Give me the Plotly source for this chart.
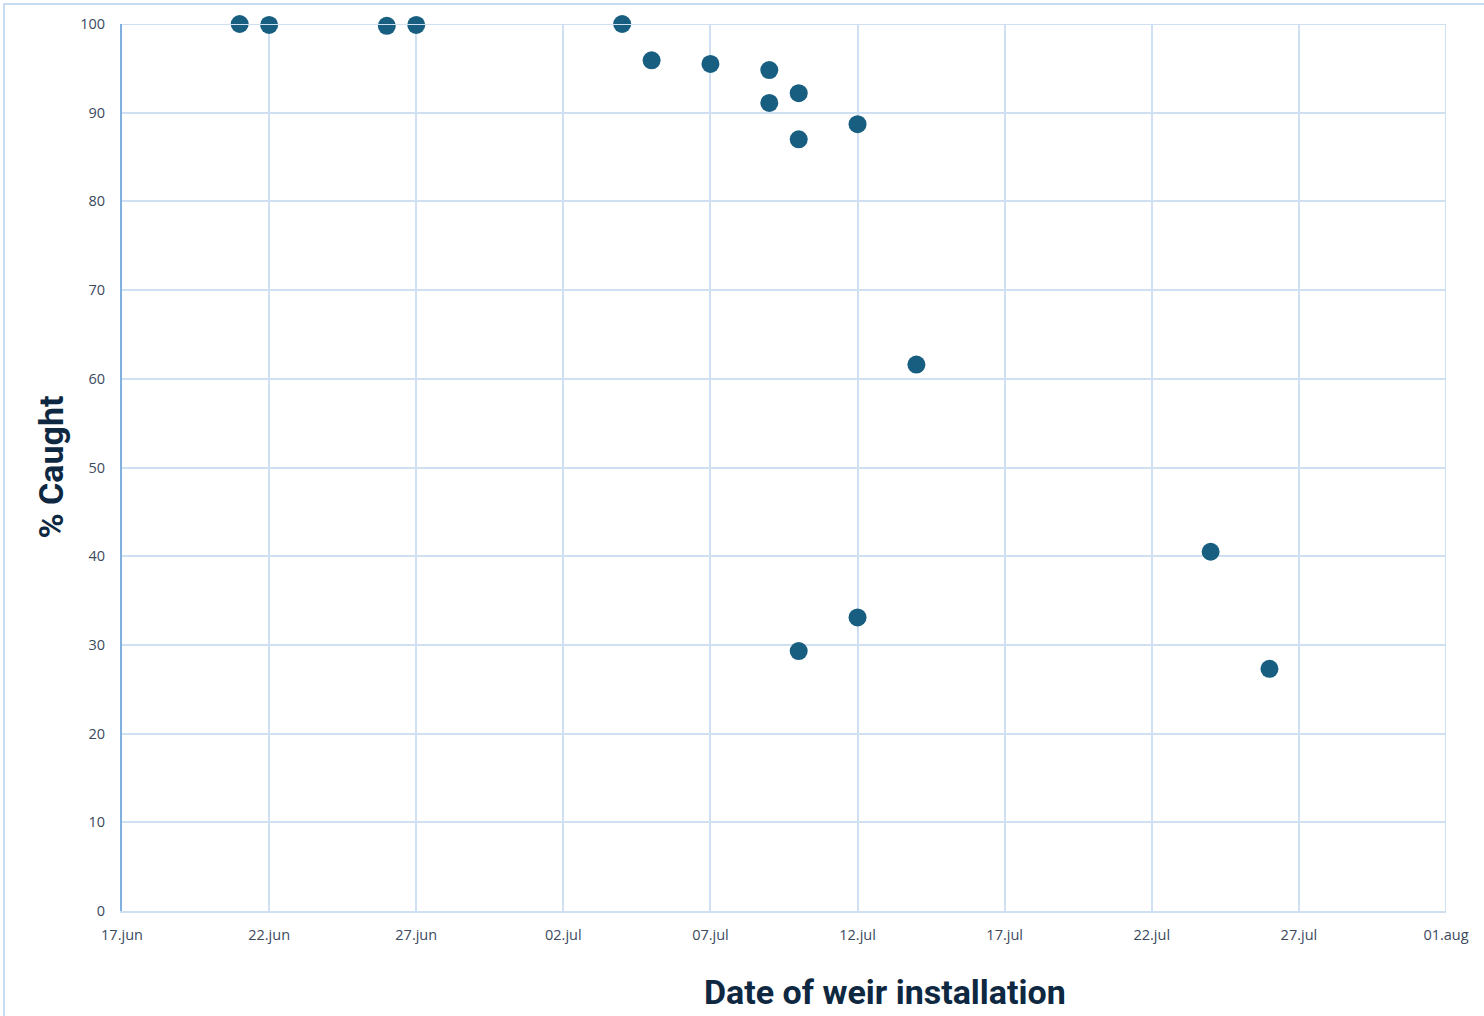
import plotly.graph_objects as go

# Data
dates = ["2024-06-21", "2024-06-22", "2024-06-26", "2024-06-27", "2024-07-04",
         "2024-07-05", "2024-07-07", "2024-07-09", "2024-07-09", "2024-07-10",
         "2024-07-10", "2024-07-12", "2024-07-14", "2024-07-10", "2024-07-12",
         "2024-07-24", "2024-07-26"]
pct_caught = [100.0, 99.9, 99.8, 99.9, 100.0,
              95.9, 95.5, 94.8, 91.1, 92.2,
              87.0, 88.7, 61.6, 29.3, 33.1,
              40.5, 27.3]

tick_dates = ["2024-06-17", "2024-06-22", "2024-06-27", "2024-07-02", "2024-07-07",
              "2024-07-12", "2024-07-17", "2024-07-22", "2024-07-27", "2024-08-01"]
tick_labels = ["17.jun", "22.jun", "27.jun", "02.jul", "07.jul",
               "12.jul", "17.jul", "22.jul", "27.jul", "01.aug"]
y_ticks = [0, 10, 20, 30, 40, 50, 60, 70, 80, 90, 100]

grid_col = "#CFE0F3"
tick_font = dict(family="Open Sans, Liberation Sans, sans-serif", size=14.5, color="#3B4A5E")

fig = go.Figure()
fig.add_trace(go.Scatter(
    x=dates, y=pct_caught, mode="markers",
    marker=dict(size=18, color="#175E80", line=dict(width=0)),
    cliponaxis=False, showlegend=False,
))

fig.update_layout(
    width=1484, height=1016,
    margin=dict(l=122, r=38, t=24, b=105),
    paper_bgcolor="white", plot_bgcolor="white",
    xaxis=dict(
        type="date", range=[tick_dates[0], tick_dates[-1]],
        tickvals=tick_dates, ticktext=tick_labels,
        showgrid=True, gridcolor=grid_col, gridwidth=1.5,
        showline=True, linecolor=grid_col, linewidth=2,
        zeroline=False, ticks="", tickfont=tick_font, ticklabelstandoff=10,
        mirror=False,
    ),
    yaxis=dict(
        range=[0, 100], tickvals=y_ticks,
        showgrid=True, gridcolor=grid_col, gridwidth=1.5,
        showline=True, linecolor="#7FB0E0", linewidth=2,
        zeroline=False, ticks="", tickfont=tick_font, ticklabelstandoff=12,
    ),
    shapes=[
        dict(type="line", xref="x", yref="y", x0=tick_dates[-1], x1=tick_dates[-1],
             y0=0, y1=100, line=dict(color=grid_col, width=2)),
        dict(type="line", xref="paper", yref="y", x0=0, x1=1,
             y0=100, y1=100, line=dict(color=grid_col, width=2)),
        dict(type="rect", xref="paper", yref="paper",
             x0=(4 - 122) / 1324, x1=(1500 - 122) / 1324,
             y0=-0.3, y1=1 + 20 / 887,
             line=dict(color="#C9DDF2", width=2), fillcolor="rgba(0,0,0,0)", layer="below"),
    ],
    annotations=[
        dict(text="<b>Date of weir installation</b>", xref="paper", yref="paper",
             x=(885 - 122) / 1324, y=-(992 - 911) / 887, xanchor="center", yanchor="middle",
             showarrow=False,
             font=dict(family="Liberation Sans Narrow, Roboto, sans-serif", size=34, color="#0E2841")),
        dict(text="<b>% Caught</b>", xref="paper", yref="paper",
             x=(50 - 122) / 1324, y=0.5, xanchor="center", yanchor="middle",
             textangle=-90, showarrow=False,
             font=dict(family="Liberation Sans Narrow, Roboto, sans-serif", size=34, color="#0E2841")),
    ],
)

fig.write_html("out.html", config={"displayModeBar": False},
               post_script="document.body.style.margin='0';")
